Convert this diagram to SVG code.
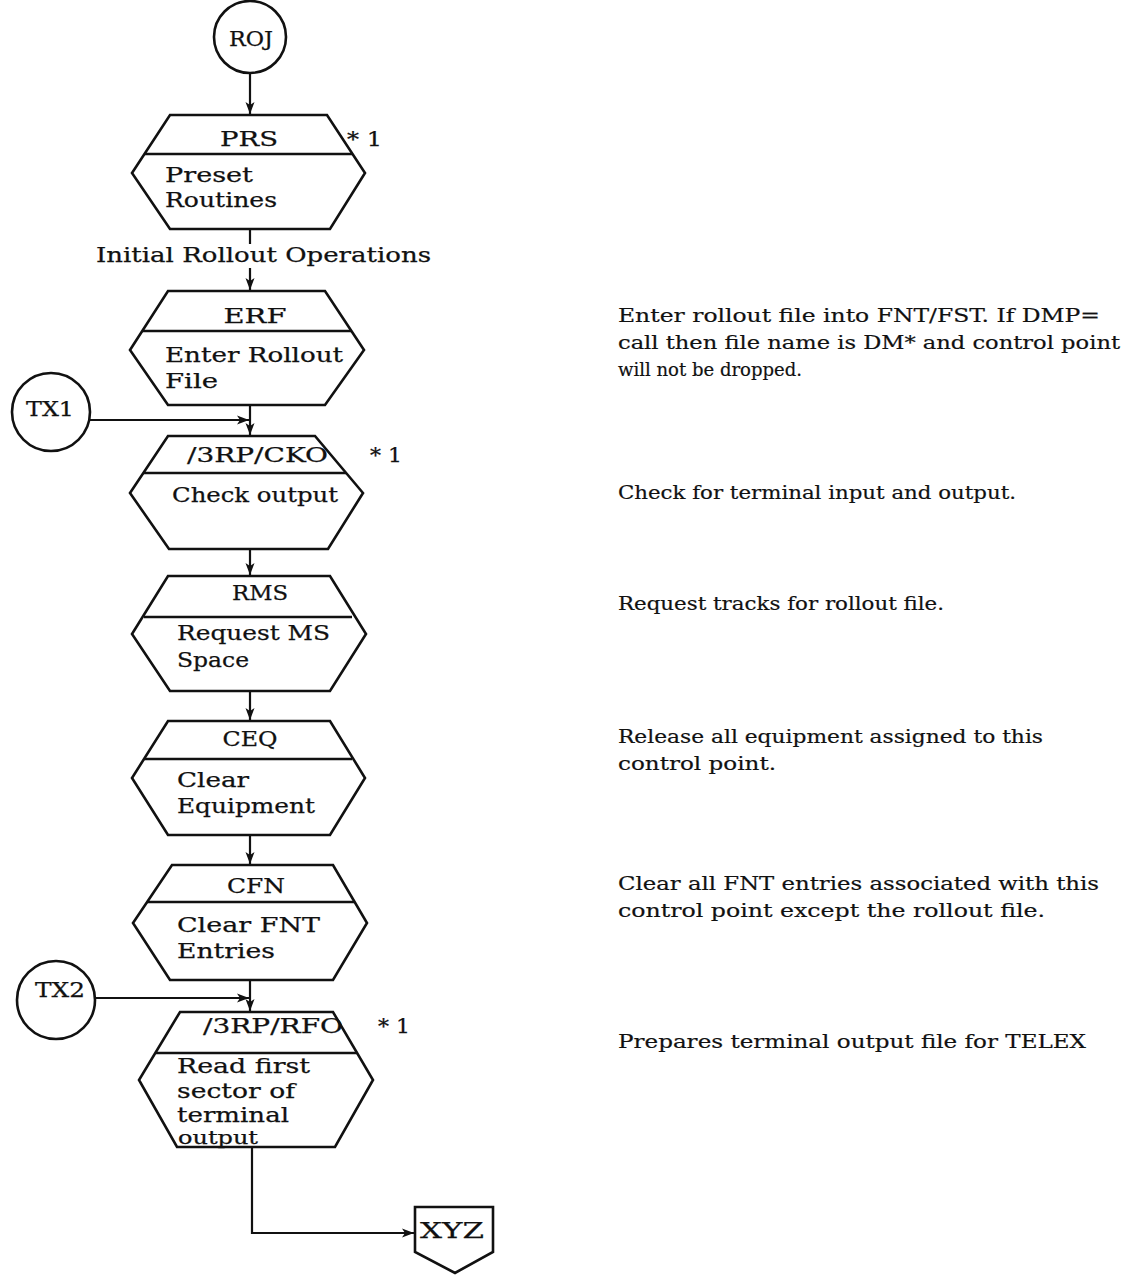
<svg xmlns="http://www.w3.org/2000/svg" width="1127" height="1275" viewBox="0 0 1127 1275">
  <defs>
    <marker id="arrow" viewBox="0 0 12 10" refX="12" refY="5" markerWidth="12" markerHeight="10" markerUnits="userSpaceOnUse" orient="auto">
      <path d="M0,0.5 L12,5 L0,9.5 L3,5 Z" fill="#111"/>
    </marker>
  </defs>
  <style>
    .shape { fill: #fff; stroke: #111; stroke-width: 2.6; stroke-linejoin: miter; }
    .div { stroke: #111; stroke-width: 2.6; fill: none; }
    .edge { stroke: #111; stroke-width: 2.2; fill: none; }
    .t { font-family: "DejaVu Serif", "Liberation Serif", serif; font-size: 21px; fill: #111; stroke: #111; stroke-width: 0.25; }
    .c { text-anchor: middle; }
    .d { font-family: "DejaVu Serif", "Liberation Serif", serif; font-size: 18.5px; fill: #111; stroke: #111; stroke-width: 0.2; }
  </style>
  <rect width="1127" height="1275" fill="#fff"/>

  <!-- connectors -->
  <g id="connectors">
    <line class="edge" x1="250" y1="74" x2="250" y2="114" marker-end="url(#arrow)"/>
    <line class="edge" x1="250" y1="229" x2="250" y2="244"/>
    <line class="edge" x1="250" y1="268" x2="250" y2="290" marker-end="url(#arrow)"/>
    <line class="edge" x1="250" y1="405" x2="250" y2="435" marker-end="url(#arrow)"/>
    <line class="edge" x1="90" y1="420" x2="249" y2="420" marker-end="url(#arrow)"/>
    <line class="edge" x1="250" y1="549" x2="250" y2="575" marker-end="url(#arrow)"/>
    <line class="edge" x1="250" y1="691" x2="250" y2="720" marker-end="url(#arrow)"/>
    <line class="edge" x1="250" y1="835" x2="250" y2="864" marker-end="url(#arrow)"/>
    <line class="edge" x1="250" y1="980" x2="250" y2="1011" marker-end="url(#arrow)"/>
    <line class="edge" x1="95" y1="998" x2="249" y2="998" marker-end="url(#arrow)"/>
    <polyline class="edge" points="252,1148 252,1233 414,1233" marker-end="url(#arrow)"/>
    <text class="t" x="96" y="262" textLength="335" lengthAdjust="spacingAndGlyphs">Initial Rollout Operations</text>
  </g>

  <!-- entry connector ROJ -->
  <g id="node-roj">
    <circle class="shape" cx="250" cy="37" r="36"/>
    <text class="t c" x="251" y="46" textLength="44" lengthAdjust="spacingAndGlyphs">ROJ</text>
  </g>

  <!-- PRS -->
  <g id="node-prs">
    <polygon class="shape" points="170,115 327,115 365,173 330,229 170,229 132,173"/>
    <line class="div" x1="144.5" y1="154" x2="352.5" y2="154"/>
    <text class="t c" x="249" y="146" textLength="58" lengthAdjust="spacingAndGlyphs">PRS</text>
    <text class="t" x="347" y="146" textLength="35" lengthAdjust="spacingAndGlyphs">* 1</text>
    <text class="t" x="165" y="182" textLength="88" lengthAdjust="spacingAndGlyphs">Preset</text>
    <text class="t" x="165" y="207" textLength="112" lengthAdjust="spacingAndGlyphs">Routines</text>
  </g>

  <!-- ERF -->
  <g id="node-erf">
    <polygon class="shape" points="168,291 325,291 364,350 325,405 168,405 130,350"/>
    <line class="div" x1="142" y1="331" x2="351.5" y2="331"/>
    <text class="t c" x="255" y="323" textLength="63" lengthAdjust="spacingAndGlyphs">ERF</text>
    <text class="t" x="165" y="362" textLength="178" lengthAdjust="spacingAndGlyphs">Enter Rollout</text>
    <text class="t" x="165" y="388" textLength="53" lengthAdjust="spacingAndGlyphs">File</text>
  </g>

  <!-- TX1 -->
  <g id="node-tx1">
    <circle class="shape" cx="51" cy="412" r="39"/>
    <text class="t c" x="50" y="416" textLength="48" lengthAdjust="spacingAndGlyphs">TX1</text>
  </g>

  <!-- /3RP/CKO -->
  <g id="node-cko">
    <polygon class="shape" points="168,436 315,436 363,493 328,549 169,549 130,493"/>
    <line class="div" x1="143" y1="473" x2="346" y2="473"/>
    <text class="t" x="187" y="462" textLength="141" lengthAdjust="spacingAndGlyphs">/3RP/CKO</text>
    <text class="t" x="370" y="462" textLength="32" lengthAdjust="spacingAndGlyphs">* 1</text>
    <text class="t" x="172" y="502" textLength="166" lengthAdjust="spacingAndGlyphs">Check output</text>
  </g>

  <!-- RMS -->
  <g id="node-rms">
    <polygon class="shape" points="168,576 330,576 366,634 330,691 170,691 132,634"/>
    <line class="div" x1="144" y1="617" x2="352" y2="617"/>
    <text class="t c" x="260" y="600" textLength="56" lengthAdjust="spacingAndGlyphs">RMS</text>
    <text class="t" x="177" y="640" textLength="153" lengthAdjust="spacingAndGlyphs">Request MS</text>
    <text class="t" x="177" y="667" textLength="72" lengthAdjust="spacingAndGlyphs">Space</text>
  </g>

  <!-- CEQ -->
  <g id="node-ceq">
    <polygon class="shape" points="168,721 330,721 365,778 330,835 168,835 132,778"/>
    <line class="div" x1="144" y1="759" x2="352" y2="759"/>
    <text class="t c" x="250" y="746" textLength="55" lengthAdjust="spacingAndGlyphs">CEQ</text>
    <text class="t" x="177" y="787" textLength="72" lengthAdjust="spacingAndGlyphs">Clear</text>
    <text class="t" x="177" y="813" textLength="138" lengthAdjust="spacingAndGlyphs">Equipment</text>
  </g>

  <!-- CFN -->
  <g id="node-cfn">
    <polygon class="shape" points="172,865 333,865 367,923 333,980 170,980 133,923"/>
    <line class="div" x1="147" y1="902" x2="354" y2="902"/>
    <text class="t c" x="256" y="893" textLength="58" lengthAdjust="spacingAndGlyphs">CFN</text>
    <text class="t" x="177" y="932" textLength="143" lengthAdjust="spacingAndGlyphs">Clear FNT</text>
    <text class="t" x="177" y="958" textLength="98" lengthAdjust="spacingAndGlyphs">Entries</text>
  </g>

  <!-- TX2 -->
  <g id="node-tx2">
    <circle class="shape" cx="56" cy="1000" r="39"/>
    <text class="t c" x="60" y="997" textLength="50" lengthAdjust="spacingAndGlyphs">TX2</text>
  </g>

  <!-- /3RP/RFO -->
  <g id="node-rfo">
    <polygon class="shape" points="180,1012 333,1012 373,1080 335,1147 177,1147 139,1080"/>
    <line class="div" x1="156" y1="1053" x2="357" y2="1053"/>
    <text class="t" x="203" y="1033" textLength="140" lengthAdjust="spacingAndGlyphs">/3RP/RFO</text>
    <text class="t" x="378" y="1033" textLength="32" lengthAdjust="spacingAndGlyphs">* 1</text>
    <text class="t" x="177" y="1073" textLength="133" lengthAdjust="spacingAndGlyphs">Read first</text>
    <text class="t" x="177" y="1098" textLength="118" lengthAdjust="spacingAndGlyphs">sector of</text>
    <text class="t" x="177" y="1122" textLength="112" lengthAdjust="spacingAndGlyphs">terminal</text>
    <text class="t" x="178" y="1144" style="font-size:18px" textLength="80" lengthAdjust="spacingAndGlyphs">output</text>
  </g>

  <!-- off-page connector XYZ -->
  <g id="node-xyz">
    <polygon class="shape" points="415,1207 493,1207 493,1252 455,1273 415,1252"/>
    <text class="t c" x="452" y="1238" style="font-size:23px" textLength="64" lengthAdjust="spacingAndGlyphs">XYZ</text>
  </g>

  <!-- step notes -->
  <g id="notes">
    <text class="d" x="618" y="322" textLength="482" lengthAdjust="spacingAndGlyphs">Enter rollout file into FNT/FST.  If DMP=</text>
    <text class="d" x="618" y="349" textLength="502" lengthAdjust="spacingAndGlyphs">call then file name is DM*  and control point</text>
    <text class="d" x="618" y="376" textLength="184" lengthAdjust="spacingAndGlyphs">will not be dropped.</text>
    <text class="d" x="618" y="499" textLength="398" lengthAdjust="spacingAndGlyphs">Check for terminal input and output.</text>
    <text class="d" x="618" y="610" textLength="326" lengthAdjust="spacingAndGlyphs">Request tracks for rollout file.</text>
    <text class="d" x="618" y="743" textLength="425" lengthAdjust="spacingAndGlyphs">Release all equipment assigned to this</text>
    <text class="d" x="618" y="770" textLength="158" lengthAdjust="spacingAndGlyphs">control point.</text>
    <text class="d" x="618" y="890" textLength="481" lengthAdjust="spacingAndGlyphs">Clear all FNT entries associated with this</text>
    <text class="d" x="618" y="917" textLength="427" lengthAdjust="spacingAndGlyphs">control point except the rollout file.</text>
    <text class="d" x="618" y="1048" textLength="468" lengthAdjust="spacingAndGlyphs">Prepares terminal output file for TELEX</text>
  </g>
</svg>
